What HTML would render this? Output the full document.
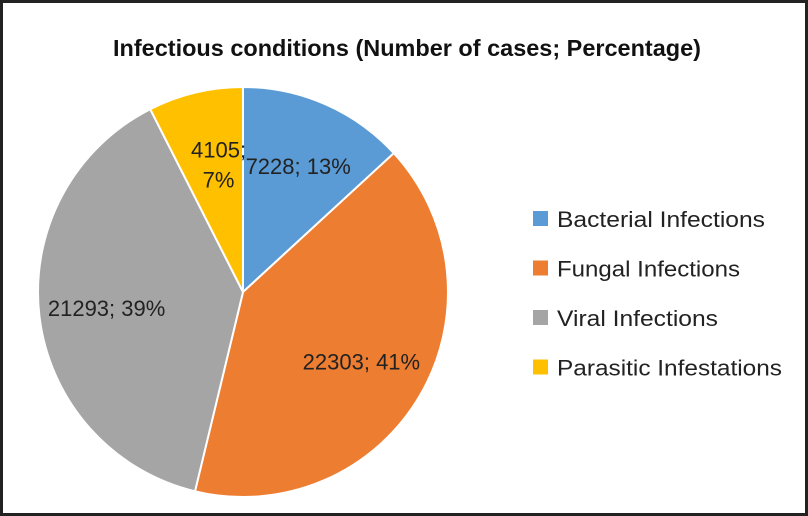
<!DOCTYPE html>
<html><head><meta charset="utf-8"><style>
html,body{margin:0;padding:0;background:#fff}
svg{display:block}
text{font-family:"Liberation Sans",sans-serif}
</style></head><body>
<svg id="chart" width="808" height="516" viewBox="0 0 808 516">
<rect x="1.5" y="1.5" width="805" height="513" fill="#fff" stroke="#222" stroke-width="3"/>
<text x="113" y="56" font-size="23" font-weight="bold" fill="#111" textLength="588" lengthAdjust="spacingAndGlyphs">Infectious conditions (Number of cases; Percentage)</text>
<g id="slices"></g>
<g id="labels"></g>
<g id="legend"></g>
</svg>
<script>
const categories = ["Bacterial Infections","Fungal Infections","Viral Infections","Parasitic Infestations"];
const values = [7228, 22303, 21293, 4105];
const percentLabels = ["13%","41%","39%","7%"];
const colors = ["#5B9BD5","#ED7D31","#A5A5A5","#FFC000"];
const legendWidths = [208, 183, 161, 225];
const NS="http://www.w3.org/2000/svg";
const cx=243, cy=292, r=205;
const total=values.reduce((a,b)=>a+b,0);
function pt(a,rr){return [cx+rr*Math.sin(a), cy-rr*Math.cos(a)];}
const sg=document.getElementById('slices'), lg=document.getElementById('labels'), leg=document.getElementById('legend');
let acc=0;
values.forEach((v,i)=>{
  const a0=acc/total*2*Math.PI; acc+=v; const a1=acc/total*2*Math.PI;
  const p0=pt(a0,r), p1=pt(a1,r), large=(a1-a0)>Math.PI?1:0;
  const p=document.createElementNS(NS,'path');
  p.setAttribute('d',`M${cx},${cy}L${p0[0]},${p0[1]}A${r},${r} 0 ${large} 1 ${p1[0]},${p1[1]}Z`);
  p.setAttribute('fill',colors[i]); p.setAttribute('stroke','#fff'); p.setAttribute('stroke-width','2');
  
  
  sg.appendChild(p);
  const am=(a0+a1)/2, small=(a1-a0)<0.6;
  const lp=pt(am, small? r*0.68 : r*0.67);
  const txt=values[i]+'; '+percentLabels[i];
  if(small){
    [values[i]+';',percentLabels[i]].forEach((s,k)=>{
      const t=document.createElementNS(NS,'text');
      t.setAttribute('x',lp[0]+8); t.setAttribute('y',lp[1]+1+k*30);
      t.setAttribute('text-anchor','middle'); t.setAttribute('font-size','22'); t.setAttribute('fill','#222');
      
      
      t.textContent=s; lg.appendChild(t);
    });
  } else {
    const t=document.createElementNS(NS,'text');
    t.setAttribute('x',lp[0]); t.setAttribute('y',lp[1]+8);
    t.setAttribute('text-anchor','middle'); t.setAttribute('font-size','22'); t.setAttribute('fill','#222');
    
    
    t.textContent=txt; lg.appendChild(t);
  }
  const ly=219+i*49.5;
  const sq=document.createElementNS(NS,'rect');
  sq.setAttribute('x',533); sq.setAttribute('y',ly-8); sq.setAttribute('width',15); sq.setAttribute('height',15); sq.setAttribute('fill',colors[i]);
  
  
  leg.appendChild(sq);
  const lt=document.createElementNS(NS,'text');
  lt.setAttribute('x',557); lt.setAttribute('y',ly+8); lt.setAttribute('font-size','22'); lt.setAttribute('fill','#222');
  lt.setAttribute('textLength',legendWidths[i]); lt.setAttribute('lengthAdjust','spacingAndGlyphs');
  
  
  lt.textContent=categories[i]; leg.appendChild(lt);
});
</script>
</body></html>
